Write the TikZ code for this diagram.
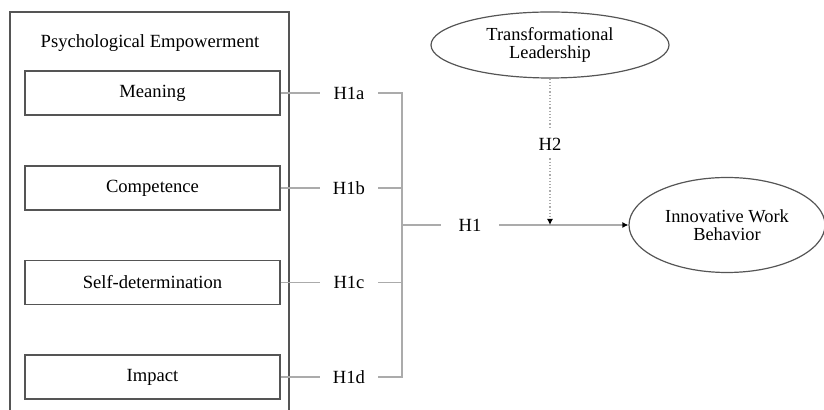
\documentclass[tikz,border=0pt]{standalone}
\usepackage{fontspec}
\setmainfont{Liberation Serif}
\usepackage{xcolor}
\usepackage{tikz}
\usetikzlibrary{arrows.meta, positioning, shapes.geometric, calc}
\definecolor{frameGray}{HTML}{555555}
\definecolor{linkGray}{HTML}{ABABAB}

\tikzset{
  dimbox/.style={draw=frameGray, line width=0.6pt, minimum width=127.5pt, minimum height=22pt, inner sep=0pt, font=\fontsize{9.3}{10}\selectfont},
  hlabel/.style={minimum width=29pt, minimum height=14pt, inner sep=0pt, font=\fontsize{9.3}{10}\selectfont},
  construct/.style={ellipse, draw=frameGray, line width=0.6pt, inner sep=0pt, align=center, font=\fontsize{9.2}{8.8}\selectfont},
  link/.style={draw=linkGray, line width=0.6pt},
  tip/.style={-{Latex[length=3pt, width=3pt]}}
}

\begin{document}
\begin{tikzpicture}[x=0.5pt, y=-0.5pt]
  \useasboundingbox (0,0) rectangle (824,410);
  % outer frame, open at the bottom
  \draw[frameGray, line width=0.6pt] (10,412) -- (10,12) -- (289,12) -- (289,412);
  \node[font=\fontsize{9.3}{10}\selectfont] (pe) at (150,43) {Psychological Empowerment};

  % dimensions
  \node[dimbox] (mean) at (152.5,93) {Meaning};
  \node[dimbox] (comp) at (152.5,188) {Competence};
  \node[dimbox] (self) at (152.5,282.5) {Self-determination};
  \node[dimbox] (imp) at (152.5,377) {Impact};

  % hypothesis labels
  \node[hlabel] (h1a) at (349,93) {H1a};
  \node[hlabel] (h1b) at (349,188) {H1b};
  \node[hlabel] (h1c) at (349,282.5) {H1c};
  \node[hlabel] (h1d) at (349,377) {H1d};
  \node[hlabel] (h1) at (470,225) {H1};

  % constructs
  \node[construct, minimum width=119pt, minimum height=33pt] (tl) at (550,45) {Transformational\\Leadership};
  \node[construct, minimum width=98pt, minimum height=47.5pt] (iwb) at (727,225) {Innovative Work\\Behavior};
  \node[hlabel] (h2) at (550,144) {H2};

  \coordinate (jn) at (402,225);
  \coordinate (mod) at (550,225);

  % connectors
  \foreach \d/\h in {mean/h1a, comp/h1b, self/h1c, imp/h1d}
    \draw[link] (\d.east) -- (\h.west);
  \draw[link] (h1a.east) -| (jn);
  \draw[link] (h1d.east) -| (jn);
  \draw[link] (h1b.east) -- (h1b.east -| jn);
  \draw[link] (h1c.east) -- (h1c.east -| jn);
  \draw[link] (jn) -- (h1.west);
  \draw[link, tip, -{Latex[length=3pt, width=3pt, color=black]}] (h1.east) -- (iwb.west);
  \draw[link, densely dotted] (tl.south) -- (h2.north);
  \draw[link, densely dotted, -{Latex[length=3pt, width=3pt, color=black]}] (h2.south) -- (mod);
\end{tikzpicture}
\end{document}
